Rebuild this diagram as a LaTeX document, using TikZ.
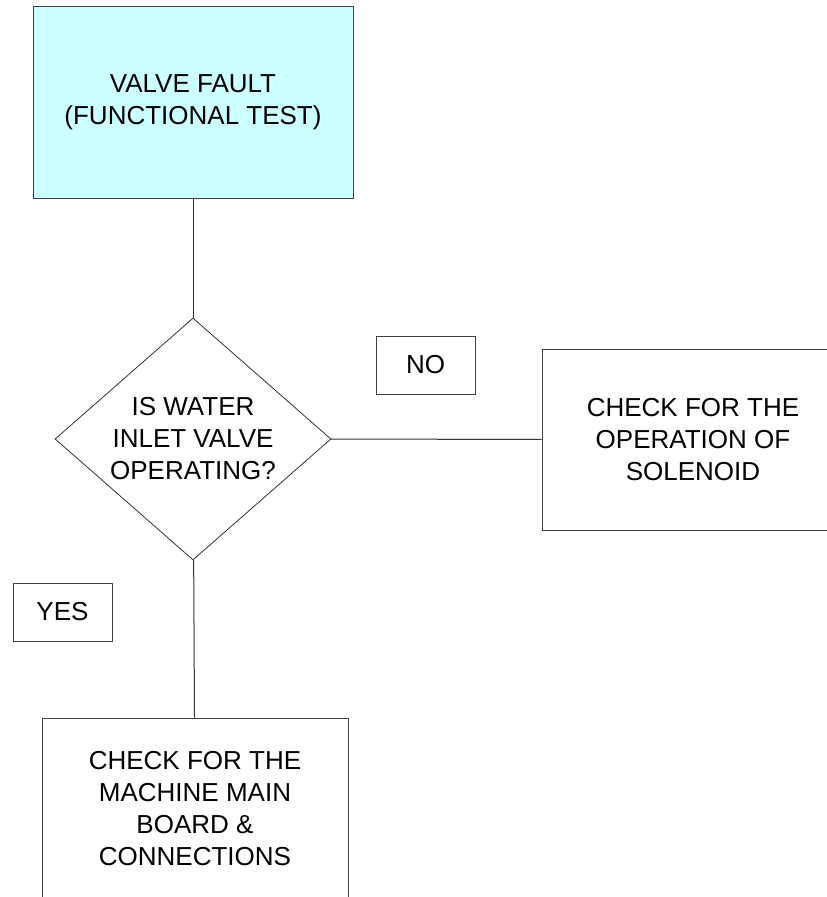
\documentclass[tikz,border=0pt]{standalone}
\usepackage{fontspec}
\setmainfont{Liberation Sans}
\usepackage{tikz}
\usetikzlibrary{shapes.geometric}
\definecolor{faultcyan}{RGB}{204,255,255}

\begin{document}
\begin{tikzpicture}[x=1pt,y=-1pt,
	every node/.style={font=\fontsize{26}{32}\selectfont, align=center},
	box/.style={draw=black!75, line width=1pt, inner sep=0pt},
	tag/.style={draw=black!75, line width=1pt, inner sep=0pt,
		minimum width=99pt, minimum height=58pt},
	decision/.style={shape=diamond, draw=black!80, line width=0.8pt,
		inner sep=0pt, aspect=1.14, minimum width=276pt, minimum height=242pt},
	link/.style={-,line width=1pt,black!80}
]
	\useasboundingbox (0,0) rectangle (827,897);
	\clip (0,0) rectangle (827,897);

	\node[box,fill=faultcyan,minimum width=320pt,minimum height=192pt] at (193,102) (fault) {VALVE FAULT\\(FUNCTIONAL TEST)};
	\node[decision] at (193,439) (inlet) {IS WATER\\INLET VALVE\\OPERATING?};
	\node[box,minimum width=302pt,minimum height=181pt] at (693,439.5) (solenoid) {CHECK FOR THE\\OPERATION OF\\SOLENOID};
	\node[box,minimum width=306pt,minimum height=181pt] at (195,808.5) (board) {CHECK FOR THE\\MACHINE MAIN\\BOARD \&\\CONNECTIONS};
	\node[tag] at (425.5,365) (no) {NO};
	\node[tag] at (62.5,612) (yes) {YES};

	\draw[link] (fault) -- (inlet);
	\draw[link] (inlet) -- (solenoid);
	\draw[link] (inlet) -- (board);
\end{tikzpicture}
\end{document}
